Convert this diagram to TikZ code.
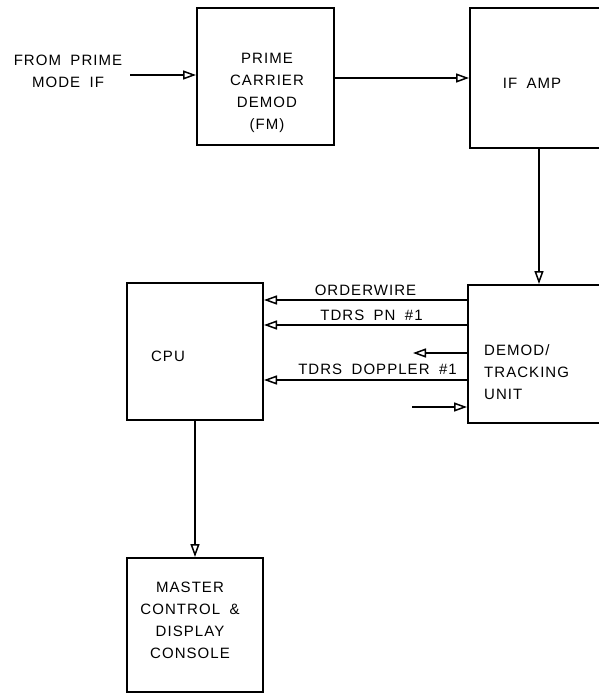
\documentclass[tikz,border=0pt]{standalone}
\usepackage{fontspec}
\setmainfont{Liberation Sans}[LetterSpace=7,WordSpace=1.8]
\usetikzlibrary{arrows.meta}

\begin{document}
\begin{tikzpicture}[x=1pt, y=-1pt,
    blk/.style={draw=black, line width=2pt, rectangle, inner sep=0pt},
    lbl/.style={inner sep=0pt, font=\fontsize{15}{22}\selectfont, align=center},
    flow/.style={line width=1.8pt, -{Triangle[open, length=13pt, width=9pt, line width=1.5pt]}}]
    \useasboundingbox (0,0) rectangle (599,697);
    % blocks
    \node[blk, minimum width=137pt, minimum height=137pt] (pcd) at (265.5,76.5) {};
    \node[blk, minimum width=142pt, minimum height=140pt] (ifamp) at (541,78) {};
    \node[blk, minimum width=144pt, minimum height=138pt] (demod) at (540,354) {};
    \node[blk, minimum width=136pt, minimum height=137pt] (cpu) at (195,351.5) {};
    \node[blk, minimum width=136pt, minimum height=134pt] (mcdc) at (195,625) {};
    % block texts
    \node[lbl] (pcdtxt) at (267,93) {PRIME\\CARRIER\\DEMOD\\(FM)};
    \node[lbl] (ifamptxt) at (532,83) {IF AMP};
    \node[lbl, anchor=west, align=left] (demodtxt) at (484,372) {DEMOD/\\TRACKING\\UNIT};
    \node[lbl] (cputxt) at (168,356) {CPU};
    \node[lbl] (mcdctxt) at (190,620) {MASTER\\CONTROL \&\\DISPLAY\\CONSOLE};
    \node[lbl] (src) at (68,71) {FROM PRIME\\MODE IF};
    % stub ends
    \coordinate (srcend) at (130,75);
    \coordinate (outstub) at (413,353);
    \coordinate (instub) at (412,407);
    % connectors
    \draw[flow] (srcend) -- (srcend -| pcd.west);
    \draw[flow] (pcd.east |- 0,78) -- (ifamp.west |- 0,78);
    \draw[flow] (ifamp.south -| 539,0) -- (demod.north -| 539,0);
    \draw[flow] (demod.west |- 0,300) -- node[lbl, above=3pt] (ow) {ORDERWIRE} (cpu.east |- 0,300);
    \draw[flow] (demod.west |- 0,325) -- node[lbl, above=3pt, xshift=6pt] (pn) {TDRS PN \#1} (cpu.east |- 0,325);
    \draw[flow] (demod.west |- outstub) -- (outstub);
    \draw[flow] (demod.west |- 0,380) -- node[lbl, above=4pt, xshift=12pt] (dop) {TDRS DOPPLER \#1} (cpu.east |- 0,380);
    \draw[flow] (instub) -- (instub -| demod.west);
    \draw[flow] (cpu.south) -- (mcdc.north);
\end{tikzpicture}
\end{document}
